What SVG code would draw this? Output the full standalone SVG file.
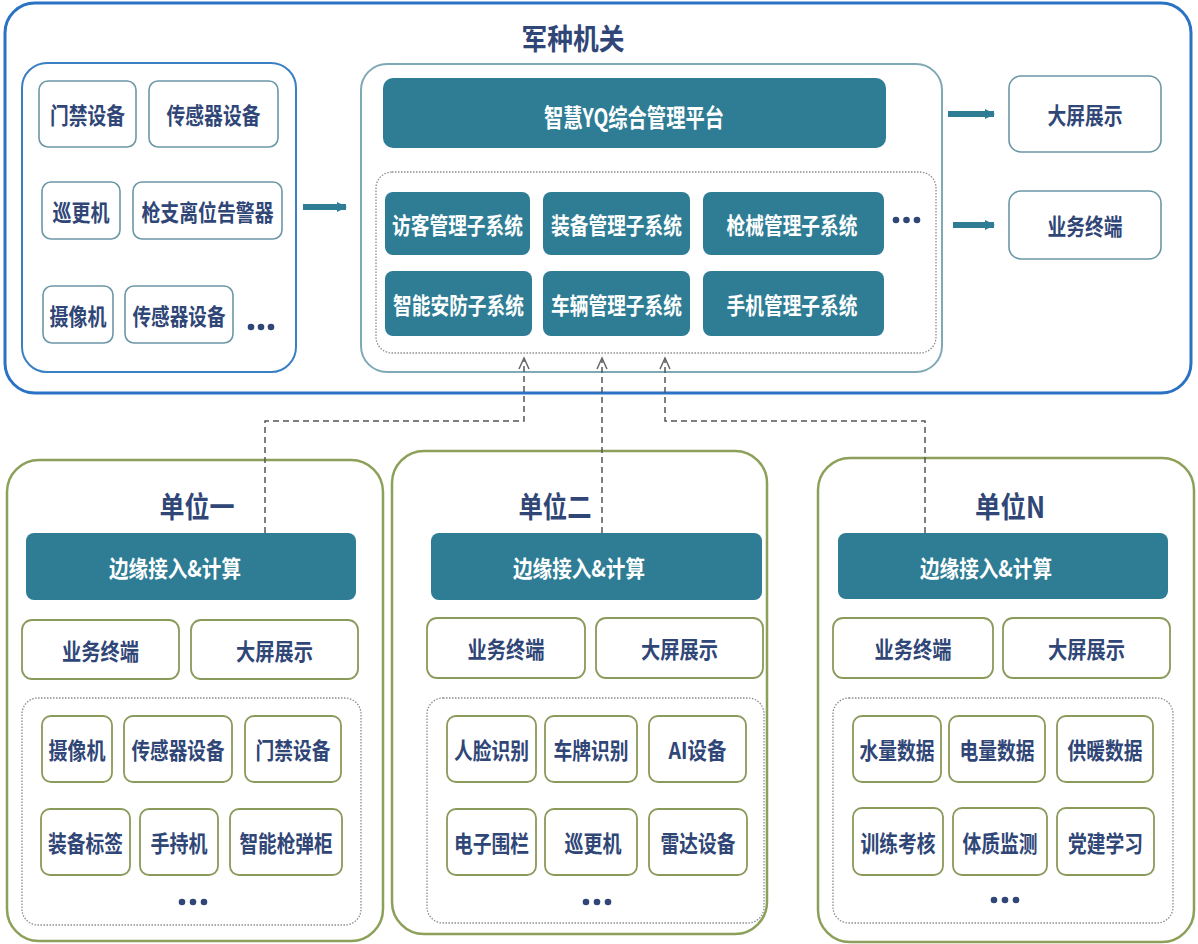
<svg xmlns="http://www.w3.org/2000/svg" width="1198" height="944" viewBox="0 0 1198 944">
<defs>
<style>
.t{font-family:"Noto Sans CJK SC","Noto Sans",sans-serif;font-weight:700;fill:#2f4677;text-anchor:middle;dominant-baseline:central;font-size:23px}
.w{fill:#ffffff}
.ttl{font-size:29px}
.dev{fill:#fff;stroke:#6b97a6;stroke-width:1.6}
.udev{fill:#fff;stroke:#8a9a5b;stroke-width:1.8}
.bar{fill:#2e7d95}
.dot{fill:none;stroke:#8c8c8c;stroke-width:1.3;stroke-dasharray:1.5 1.5}
.unit{fill:#fff;stroke:#8ca05a;stroke-width:2.5}
.conn{fill:none;stroke:#555;stroke-width:1.5;stroke-dasharray:6 4}
.thick{fill:none;stroke:#2e7d95;stroke-width:6}
.dd{fill:#2f4677}
</style>
<marker id="tri" viewBox="0 0 10 10" refX="9" refY="5" markerUnits="userSpaceOnUse" markerWidth="10" markerHeight="13" orient="auto">
<path d="M0,0 L10,5 L0,10 z" fill="#2e7d95"/>
</marker>
<marker id="chev" viewBox="0 0 12 12" refX="11" refY="6" markerUnits="userSpaceOnUse" markerWidth="14" markerHeight="12" orient="auto">
<path d="M0,1 L11,6 L0,11" fill="none" stroke="#666" stroke-width="1.5"/>
</marker>
</defs>
<rect width="1198" height="944" fill="#fff"/>

<g id="hq">
<rect x="5" y="3" width="1186" height="390" rx="30" fill="#fff" stroke="#2a73c4" stroke-width="3"/>
<text class="t ttl" x="573" y="37" textLength="103" lengthAdjust="spacingAndGlyphs">军种机关</text>
</g>

<g id="devices">
<rect x="22" y="63" width="274" height="309" rx="25" fill="#fff" stroke="#3a7fc1" stroke-width="2"/>
<rect class="dev" x="39" y="81" width="97" height="66" rx="9"/>
<text class="t" x="87.5" y="114" textLength="75" lengthAdjust="spacingAndGlyphs">门禁设备</text>
<rect class="dev" x="149" y="81" width="129" height="66" rx="9"/>
<text class="t" x="213.5" y="114" textLength="94" lengthAdjust="spacingAndGlyphs">传感器设备</text>
<rect class="dev" x="42" y="182" width="78" height="57" rx="9"/>
<text class="t" x="81" y="210.5" textLength="57" lengthAdjust="spacingAndGlyphs">巡更机</text>
<rect class="dev" x="133" y="182" width="149" height="57" rx="9"/>
<text class="t" x="207.5" y="210.5" textLength="132" lengthAdjust="spacingAndGlyphs">枪支离位告警器</text>
<rect class="dev" x="43" y="286" width="70" height="57" rx="9"/>
<text class="t" x="78" y="314.5" textLength="57" lengthAdjust="spacingAndGlyphs">摄像机</text>
<rect class="dev" x="125" y="286" width="108" height="57" rx="9"/>
<text class="t" x="179" y="314.5" textLength="93" lengthAdjust="spacingAndGlyphs">传感器设备</text>
<circle class="dd" cx="251" cy="327" r="3.3"/><circle class="dd" cx="261" cy="327" r="3.3"/><circle class="dd" cx="271" cy="327" r="3.3"/>
</g>

<g id="platform">
<rect x="361" y="64" width="581" height="308" rx="26" fill="#fff" stroke="#7ea9b5" stroke-width="2"/>
<rect class="bar" x="383" y="78" width="503" height="70" rx="10"/>
<text class="t w" x="634" y="116" textLength="180" lengthAdjust="spacingAndGlyphs" style="font-size:25px">智慧YQ综合管理平台</text>
<rect class="dot" x="376" y="172" width="560" height="181" rx="16"/>
<rect class="bar" x="385" y="192" width="145" height="63" rx="8"/>
<text class="t w" x="457.5" y="224" textLength="131" lengthAdjust="spacingAndGlyphs">访客管理子系统</text>
<rect class="bar" x="543" y="192" width="147" height="63" rx="8"/>
<text class="t w" x="616.5" y="224" textLength="131" lengthAdjust="spacingAndGlyphs">装备管理子系统</text>
<rect class="bar" x="703" y="192" width="181" height="63" rx="8"/>
<text class="t w" x="792" y="224" textLength="131" lengthAdjust="spacingAndGlyphs">枪械管理子系统</text>
<rect class="bar" x="385" y="271" width="147" height="65" rx="8"/>
<text class="t w" x="458.5" y="303.5" textLength="131" lengthAdjust="spacingAndGlyphs">智能安防子系统</text>
<rect class="bar" x="543" y="271" width="147" height="65" rx="8"/>
<text class="t w" x="616.5" y="303.5" textLength="131" lengthAdjust="spacingAndGlyphs">车辆管理子系统</text>
<rect class="bar" x="703" y="271" width="181" height="65" rx="8"/>
<text class="t w" x="792" y="303.5" textLength="131" lengthAdjust="spacingAndGlyphs">手机管理子系统</text>
<circle class="dd" cx="896" cy="220" r="3.3"/><circle class="dd" cx="906.5" cy="220" r="3.3"/><circle class="dd" cx="917" cy="220" r="3.3"/>
</g>

<g id="out-screen">
<rect class="dev" x="1009" y="76" width="152" height="76" rx="12"/>
<text class="t" x="1085" y="114" textLength="75" lengthAdjust="spacingAndGlyphs">大屏展示</text>
</g>
<g id="out-terminal">
<rect class="dev" x="1009" y="191" width="152" height="68" rx="12"/>
<text class="t" x="1085" y="225" textLength="75" lengthAdjust="spacingAndGlyphs">业务终端</text>
</g>

<g id="unit1">
<rect class="unit" x="7" y="460" width="376" height="481" rx="32"/>
<text class="t ttl" x="197" y="505" textLength="75" lengthAdjust="spacingAndGlyphs">单位一</text>
<rect class="bar" x="26" y="533" width="330" height="67" rx="8"/>
<text class="t w" x="175" y="567" textLength="132" lengthAdjust="spacingAndGlyphs">边缘接入&amp;计算</text>
<rect class="udev" x="22" y="620" width="157" height="59" rx="10"/>
<text class="t" x="100.5" y="649.5" textLength="77" lengthAdjust="spacingAndGlyphs">业务终端</text>
<rect class="udev" x="191" y="620" width="167" height="59" rx="10"/>
<text class="t" x="274.5" y="649.5" textLength="77" lengthAdjust="spacingAndGlyphs">大屏展示</text>
<rect class="dot" x="22" y="698" width="339" height="227" rx="16"/>
<rect class="udev" x="42" y="716" width="70" height="66" rx="9"/>
<text class="t" x="77" y="749" textLength="57" lengthAdjust="spacingAndGlyphs">摄像机</text>
<rect class="udev" x="124" y="716" width="108" height="66" rx="9"/>
<text class="t" x="178" y="749" textLength="93" lengthAdjust="spacingAndGlyphs">传感器设备</text>
<rect class="udev" x="245" y="716" width="96" height="66" rx="9"/>
<text class="t" x="293" y="749" textLength="75" lengthAdjust="spacingAndGlyphs">门禁设备</text>
<rect class="udev" x="41" y="809" width="89" height="66" rx="9"/>
<text class="t" x="85.5" y="842" textLength="75" lengthAdjust="spacingAndGlyphs">装备标签</text>
<rect class="udev" x="140" y="809" width="78" height="66" rx="9"/>
<text class="t" x="179" y="842" textLength="57" lengthAdjust="spacingAndGlyphs">手持机</text>
<rect class="udev" x="230" y="809" width="112" height="66" rx="9"/>
<text class="t" x="286" y="842" textLength="93" lengthAdjust="spacingAndGlyphs">智能枪弹柜</text>
<circle class="dd" cx="182" cy="902" r="3.3"/><circle class="dd" cx="193" cy="902" r="3.3"/><circle class="dd" cx="204" cy="902" r="3.3"/>
</g>

<g id="unit2">
<rect class="unit" x="392" y="451" width="375" height="483" rx="32"/>
<text class="t ttl" x="555" y="505" textLength="73" lengthAdjust="spacingAndGlyphs">单位二</text>
<rect class="bar" x="431" y="533" width="331" height="67" rx="8"/>
<text class="t w" x="579" y="567" textLength="132" lengthAdjust="spacingAndGlyphs">边缘接入&amp;计算</text>
<rect class="udev" x="427" y="618" width="158" height="60" rx="10"/>
<text class="t" x="506" y="648" textLength="77" lengthAdjust="spacingAndGlyphs">业务终端</text>
<rect class="udev" x="596" y="618" width="167" height="60" rx="10"/>
<text class="t" x="679.5" y="648" textLength="77" lengthAdjust="spacingAndGlyphs">大屏展示</text>
<rect class="dot" x="427" y="698" width="337" height="225" rx="16"/>
<rect class="udev" x="447" y="716" width="89" height="66" rx="9"/>
<text class="t" x="491.5" y="749" textLength="75" lengthAdjust="spacingAndGlyphs">人脸识别</text>
<rect class="udev" x="545" y="716" width="92" height="66" rx="9"/>
<text class="t" x="591" y="749" textLength="75" lengthAdjust="spacingAndGlyphs">车牌识别</text>
<rect class="udev" x="649" y="716" width="97" height="66" rx="9"/>
<text class="t" x="697.5" y="749" textLength="58" lengthAdjust="spacingAndGlyphs">AI设备</text>
<rect class="udev" x="447" y="809" width="89" height="66" rx="9"/>
<text class="t" x="491.5" y="842" textLength="75" lengthAdjust="spacingAndGlyphs">电子围栏</text>
<rect class="udev" x="545" y="809" width="92" height="66" rx="9"/>
<text class="t" x="593" y="842" textLength="57" lengthAdjust="spacingAndGlyphs">巡更机</text>
<rect class="udev" x="649" y="809" width="98" height="66" rx="9"/>
<text class="t" x="698" y="842" textLength="75" lengthAdjust="spacingAndGlyphs">雷达设备</text>
<circle class="dd" cx="586" cy="902" r="3.3"/><circle class="dd" cx="597" cy="902" r="3.3"/><circle class="dd" cx="608" cy="902" r="3.3"/>
</g>

<g id="unitN">
<rect class="unit" x="818" y="458" width="376" height="484" rx="32"/>
<text class="t ttl" x="1010" y="505" textLength="70" lengthAdjust="spacingAndGlyphs">单位N</text>
<rect class="bar" x="838" y="533" width="330" height="66" rx="8"/>
<text class="t w" x="986" y="567" textLength="132" lengthAdjust="spacingAndGlyphs">边缘接入&amp;计算</text>
<rect class="udev" x="833" y="618" width="160" height="60" rx="10"/>
<text class="t" x="913" y="648" textLength="77" lengthAdjust="spacingAndGlyphs">业务终端</text>
<rect class="udev" x="1003" y="618" width="167" height="60" rx="10"/>
<text class="t" x="1086.5" y="648" textLength="77" lengthAdjust="spacingAndGlyphs">大屏展示</text>
<rect class="dot" x="833" y="698" width="340" height="225" rx="16"/>
<rect class="udev" x="853" y="716" width="88" height="66" rx="9"/>
<text class="t" x="897" y="749" textLength="75" lengthAdjust="spacingAndGlyphs">水量数据</text>
<rect class="udev" x="949" y="716" width="96" height="66" rx="9"/>
<text class="t" x="997" y="749" textLength="75" lengthAdjust="spacingAndGlyphs">电量数据</text>
<rect class="udev" x="1057" y="716" width="96" height="66" rx="9"/>
<text class="t" x="1105" y="749" textLength="75" lengthAdjust="spacingAndGlyphs">供暖数据</text>
<rect class="udev" x="853" y="808" width="90" height="67" rx="9"/>
<text class="t" x="898" y="841.5" textLength="75" lengthAdjust="spacingAndGlyphs">训练考核</text>
<rect class="udev" x="953" y="808" width="94" height="67" rx="9"/>
<text class="t" x="1000" y="841.5" textLength="75" lengthAdjust="spacingAndGlyphs">体质监测</text>
<rect class="udev" x="1057" y="808" width="97" height="67" rx="9"/>
<text class="t" x="1105.5" y="841.5" textLength="75" lengthAdjust="spacingAndGlyphs">党建学习</text>
<circle class="dd" cx="994" cy="900" r="3.3"/><circle class="dd" cx="1005" cy="900" r="3.3"/><circle class="dd" cx="1016" cy="900" r="3.3"/>
</g>

<g id="connectors">
<path class="thick" d="M303,207 H346" marker-end="url(#tri)"/>
<path class="thick" d="M948,114 H994" marker-end="url(#tri)"/>
<path class="thick" d="M953,225 H994" marker-end="url(#tri)"/>
<path class="conn" d="M265,533 V421 H524 V358" marker-end="url(#chev)"/>
<path class="conn" d="M602,533 V358" marker-end="url(#chev)"/>
<path class="conn" d="M925,533 V421 H665 V358" marker-end="url(#chev)"/>
</g>
</svg>
